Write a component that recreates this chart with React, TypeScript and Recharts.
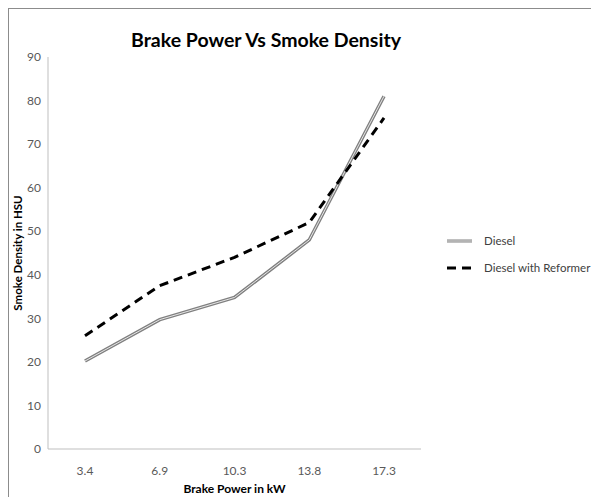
import { LineChart, Line, XAxis, YAxis, Label } from 'recharts';

const categories = ['3.4', '6.9', '10.3', '13.8', '17.3'];
const diesel = [20.2, 29.7, 34.8, 48, 81];
const reformer = [26, 37.5, 44, 52, 76];
const yTicks = [0, 10, 20, 30, 40, 50, 60, 70, 80, 90];

const data = categories.map((bp, i) => ({
  bp,
  diesel: diesel[i],
  reformer: reformer[i],
}));

const FONT = 'Lato, "Open Sans", sans-serif';

const LegendBox = () => (
  <svg width={150} height={50} style={{ fontFamily: FONT, position: 'absolute', left: 438, top: 224 }}>
    <line x1={0} y1={8} x2={25} y2={8} stroke="#808080" strokeWidth={3} />
    <line x1={0} y1={8} x2={25} y2={8} stroke="#e6e6e6" strokeWidth={1} />
    <text x={37} y={12} fontSize={11.5} fill="#404040">Diesel</text>
    <line x1={0} y1={35} x2={25} y2={35} stroke="#000" strokeWidth={3} strokeDasharray="9 6" />
    <text x={37} y={39} fontSize={11.5} fill="#404040">Diesel with Reformer</text>
  </svg>
);

const App = () => {
  return (
    <div
      style={{
        position: 'relative',
        width: 591,
        height: 489,
        boxSizing: 'border-box',
        borderLeft: '1px solid #8c8c8c',
        borderTop: '1px solid #8c8c8c',
        overflow: 'hidden',
        fontFamily: FONT,
      }}
    >
      <div
        style={{
          position: 'absolute',
          left: 0,
          width: 514,
          top: 19,
          textAlign: 'center',
          fontWeight: 'bold',
          fontSize: 19.5,
          color: '#000',
        }}
      >
        Brake Power Vs Smoke Density
      </div>
      <LineChart
        width={590}
        height={488}
        data={data}
        margin={{ top: 48, right: 178, bottom: 18, left: 0 }}
      >
        <XAxis
          dataKey="bp"
          padding={{ left: 37, right: 37 }}
          stroke="#bfbfbf"
          tickLine={false}
          tickSize={0}
          tickMargin={17}
          height={30}
          tick={{ fill: '#595959', fontSize: 12, fontFamily: FONT }}
        >
          <Label
            value="Brake Power in kW"
            position="insideBottom"
            offset={-14}
            style={{ fontWeight: 'bold', fontSize: 12, fill: '#000', fontFamily: FONT }}
          />
        </XAxis>
        <YAxis
          domain={[0, 90]}
          ticks={yTicks}
          width={39}
          stroke="#bfbfbf"
          tickLine={false}
          tickSize={0}
          tickMargin={7}
          tick={{ fill: '#595959', fontSize: 12, fontFamily: FONT }}
        >
          <Label
            value="Smoke Density in HSU"
            angle={-90}
            position="insideLeft"
            offset={9}
            style={{ textAnchor: 'middle', fontWeight: 'bold', fontSize: 11.5, fill: '#000', fontFamily: FONT }}
          />
        </YAxis>
        <Line
          type="linear"
          dataKey="diesel"
          name="Diesel"
          stroke="#808080"
          strokeWidth={3.5}
          dot={false}
          activeDot={false}
          isAnimationActive={false}
        />
        <Line
          type="linear"
          dataKey="diesel"
          name="Diesel inner"
          legendType="none"
          stroke="#e6e6e6"
          strokeWidth={1}
          dot={false}
          activeDot={false}
          isAnimationActive={false}
        />
        <Line
          type="linear"
          dataKey="reformer"
          name="Diesel with Reformer"
          stroke="#000"
          strokeWidth={3}
          strokeDasharray="9 6"
          dot={false}
          activeDot={false}
          isAnimationActive={false}
        />
      </LineChart>
      <LegendBox />
    </div>
  );
};

export default App;
